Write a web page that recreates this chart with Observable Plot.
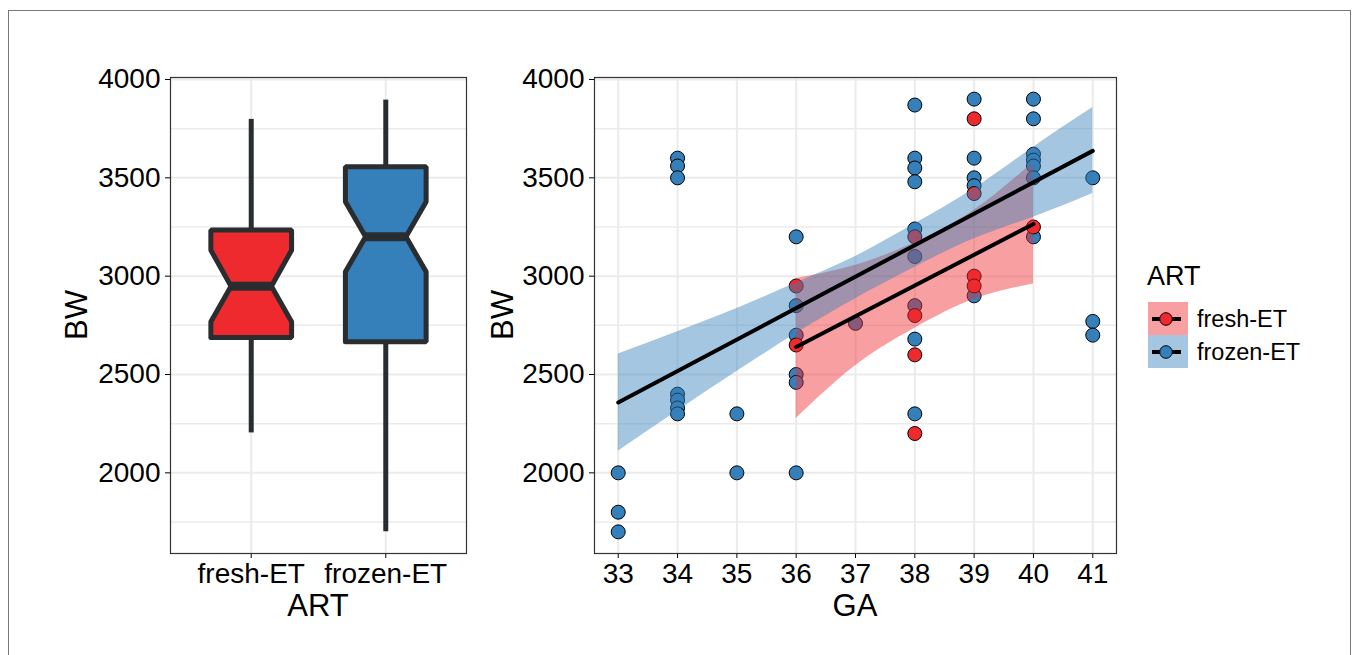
<!DOCTYPE html>
<html><head><meta charset="utf-8">
<script src="https://cdn.jsdelivr.net/npm/d3@7"></script>
<script src="https://cdn.jsdelivr.net/npm/@observablehq/plot@0.6"></script>
<style>
html,body{margin:0;padding:0;background:#fff;}
body{width:1358px;height:655px;position:relative;overflow:hidden;font-family:"Liberation Sans",Arial,sans-serif;}
#frame{position:absolute;left:8px;top:10px;width:1343px;height:700px;border:1px solid #777;border-bottom:none;box-sizing:border-box;}
.abs{position:absolute;}
.lbl{position:absolute;font-size:31px;color:#000;white-space:nowrap;transform:translate(-50%,-50%);line-height:1;}
.rot{transform:translate(-50%,-50%) rotate(-90deg);}
</style></head><body>
<div id="frame"></div>
<div id="left" class="abs" style="left:0;top:0"></div>
<div id="right" class="abs" style="left:480px;top:0"></div>
<div class="lbl rot" style="left:76px;top:315px">BW</div>
<div class="lbl" style="left:318px;top:605px">ART</div>
<div class="lbl rot" style="left:502px;top:315px">BW</div>
<div class="lbl" style="left:855px;top:605px">GA</div>
<svg id="legend" class="abs" style="left:1130px;top:250px" width="220" height="130"></svg>
<script>
// ---------- data ----------
const artCategories = ["fresh-ET", "frozen-ET"];
const boxQ1 = [2688, 2666];
const boxMedian = [2949, 3200];
const boxQ3 = [3235, 3556];
const notchLow = [2768, 3022];
const notchHigh = [3132, 3378];
const whiskerLow = [2203, 1700];
const whiskerHigh = [3797, 3895];

const bwTicks = [2000, 2500, 3000, 3500, 4000];
const bwMinor = [1750, 2250, 2750, 3250, 3750];
const gaTicks = [33, 34, 35, 36, 37, 38, 39, 40, 41];

const freshGA = [36, 36, 38, 38, 38, 38, 39, 39, 39, 39, 40];
const freshBW = [2950, 2650, 3200, 2800, 2600, 2200, 3800, 3420, 3000, 2950, 3250];

const frozenGA = [33, 33, 33, 34, 34, 34, 34, 34, 34, 34, 35, 35, 36, 36, 36, 36, 36, 36, 37,
  38, 38, 38, 38, 38, 38, 38, 38, 38, 39, 39, 39, 39, 39, 40, 40, 40, 40, 40, 40, 40, 41, 41, 41];
const frozenBW = [2000, 1800, 1700, 3600, 3560, 3500, 2400, 2370, 2330, 2300, 2300, 2000,
  3200, 2850, 2700, 2500, 2460, 2000, 2760,
  3870, 3600, 3550, 3480, 3240, 3100, 2850, 2680, 2300,
  3900, 3600, 3500, 3460, 2900,
  3900, 3800, 3620, 3590, 3560, 3500, 3200,
  3500, 2770, 2700];

// fitted lines (endpoints) and confidence bands
const freshFitGA = [36, 40];
const freshFitBW = [2640, 3265];
const frozenFitGA = [33, 41];
const frozenFitBW = [2358, 3637];

const freshBandGA = [36, 37, 38, 39, 40];
const freshBandLow = [2276, 2545, 2735, 2882, 2960];
const freshBandHigh = [2988, 3055, 3170, 3335, 3578];

const frozenBandGA = [33, 34, 35, 36, 37, 38, 39, 40, 41];
const frozenBandLow = [2110, 2315, 2515, 2708, 2885, 3045, 3190, 3300, 3420];
const frozenBandHigh = [2604, 2718, 2835, 2965, 3100, 3266, 3445, 3656, 3858];

// ---------- style ----------
const RED = "#EE2A2E", BLUE = "#3580BB", DARK = "#2A2D2F", GRID = "#EBEBEB";
const FONT = "'Liberation Sans', Arial, sans-serif";
const TICK_FONT = "28px";

const zip = (xs, ys) => xs.map((x, i) => ({x, y: ys[i]}));

// ---------- left: notched boxplot ----------
const hw = 0.3;
const boxes = artCategories.map((cat, i) => {
  const c = i + 1;
  return {cat, c, pts: [
    [c - hw, boxQ1[i]], [c - hw, notchLow[i]], [c - hw / 2, boxMedian[i]], [c - hw, notchHigh[i]],
    [c - hw, boxQ3[i]], [c + hw, boxQ3[i]], [c + hw, notchHigh[i]], [c + hw / 2, boxMedian[i]],
    [c + hw, notchLow[i]], [c + hw, boxQ1[i]], [c - hw, boxQ1[i]]
  ].map(([x, y]) => ({x, y}))};
});
const boxFill = [RED, BLUE];
const stats = artCategories.map((cat, i) => ({c: i + 1, q1: boxQ1[i], q3: boxQ3[i], lo: whiskerLow[i], hi: whiskerHigh[i], med: boxMedian[i]}));

const left = Plot.plot({
  width: 560, height: 655,
  marginLeft: 170, marginRight: 94, marginTop: 77, marginBottom: 102,
  style: {fontFamily: FONT, fontSize: TICK_FONT, color: "#000", background: "transparent", overflow: "visible"},
  x: {domain: [0.4, 2.6], ticks: [1, 2], tickFormat: d => artCategories[d - 1], tickSize: 5, tickPadding: 5, label: null},
  y: {domain: [1590, 4010], ticks: bwTicks, tickFormat: d => String(d), tickSize: 5, tickPadding: 5, label: null},
  marks: [
    Plot.ruleY(bwMinor, {stroke: GRID, strokeWidth: 1.5}),
    Plot.ruleY(bwTicks, {stroke: GRID, strokeWidth: 2}),
    Plot.ruleX([1, 2], {stroke: GRID, strokeWidth: 2}),
    Plot.ruleX(stats, {x: "c", y1: "q3", y2: "hi", stroke: DARK, strokeWidth: 5}),
    Plot.ruleX(stats, {x: "c", y1: "q1", y2: "lo", stroke: DARK, strokeWidth: 5}),
    ...boxes.map((b, i) => Plot.line(b.pts, {x: "x", y: "y", fill: boxFill[i], stroke: DARK, strokeWidth: 5, strokeLinejoin: "miter", curve: "linear"})),
    Plot.ruleY(stats, {y: "med", x1: d => d.c - hw / 2, x2: d => d.c + hw / 2, stroke: DARK, strokeWidth: 9}),
    Plot.frame({stroke: "#333", strokeWidth: 1.2})
  ]
});
document.getElementById("left").appendChild(left);

// ---------- right: scatter with fits ----------
const freshPts = zip(freshGA, freshBW);
const frozenPts = zip(frozenGA, frozenBW);
const freshBand = freshBandGA.map((g, i) => ({x: g, lo: freshBandLow[i], hi: freshBandHigh[i]}));
const frozenBand = frozenBandGA.map((g, i) => ({x: g, lo: frozenBandLow[i], hi: frozenBandHigh[i]}));

const right = Plot.plot({
  width: 878, height: 655,
  marginLeft: 114, marginRight: 242, marginTop: 77, marginBottom: 102,
  style: {fontFamily: FONT, fontSize: TICK_FONT, color: "#000", background: "transparent", overflow: "visible"},
  x: {domain: [32.6, 41.4], ticks: gaTicks, tickFormat: d => String(d), tickSize: 5, tickPadding: 5, label: null},
  y: {domain: [1590, 4010], ticks: bwTicks, tickFormat: d => String(d), tickSize: 5, tickPadding: 5, label: null},
  marks: [
    Plot.ruleY(bwMinor, {stroke: GRID, strokeWidth: 1.5}),
    Plot.ruleY(bwTicks, {stroke: GRID, strokeWidth: 2}),
    Plot.ruleX(gaTicks, {stroke: GRID, strokeWidth: 2}),
    Plot.dot(frozenPts, {x: "x", y: "y", r: 7, fill: BLUE, stroke: "#000", strokeWidth: 1}),
    Plot.dot(freshPts, {x: "x", y: "y", r: 7, fill: RED, stroke: "#000", strokeWidth: 1}),
    Plot.areaY(freshBand, {x: "x", y1: "lo", y2: "hi", fill: RED, fillOpacity: 0.45, curve: "natural"}),
    Plot.line(zip(freshFitGA, freshFitBW), {x: "x", y: "y", stroke: "#000", strokeWidth: 4}),
    Plot.areaY(frozenBand, {x: "x", y1: "lo", y2: "hi", fill: BLUE, fillOpacity: 0.45, curve: "natural"}),
    Plot.line(zip(frozenFitGA, frozenFitBW), {x: "x", y: "y", stroke: "#000", strokeWidth: 4}),
    Plot.frame({stroke: "#333", strokeWidth: 1.2})
  ]
});
document.getElementById("right").appendChild(right);

// ---------- legend ----------
const lg = d3.select("#legend").style("font-family", FONT);
lg.append("text").attr("x", 17).attr("y", 35).attr("font-size", 27).text("ART");
const keyColors = [RED, BLUE];
artCategories.forEach((cat, i) => {
  const y0 = 52 + i * 33;
  lg.append("rect").attr("x", 18).attr("y", y0).attr("width", 40).attr("height", 33)
    .attr("fill", keyColors[i]).attr("fill-opacity", 0.45);
  lg.append("line").attr("x1", 22).attr("x2", 51).attr("y1", y0 + 17).attr("y2", y0 + 17)
    .attr("stroke", "#000").attr("stroke-width", 4);
  lg.append("circle").attr("cx", 36).attr("cy", y0 + 17).attr("r", 6.3)
    .attr("fill", keyColors[i]).attr("stroke", "#000").attr("stroke-width", 1);
  lg.append("text").attr("x", 67).attr("y", y0 + 25).attr("font-size", 23.5).text(cat);
});
</script>
</body></html>
